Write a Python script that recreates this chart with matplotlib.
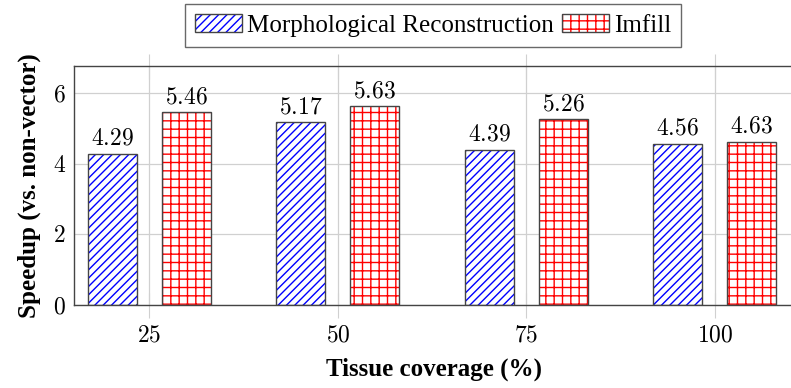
import matplotlib.pyplot as plt
from matplotlib.patches import Patch
import numpy as np

plt.rcParams['font.family'] = ['Liberation Serif', 'DejaVu Serif']
plt.rcParams['mathtext.fontset'] = 'cm'
plt.rcParams['hatch.linewidth'] = 1.0

coverage = ['25', '50', '75', '100']
morph = [4.29, 5.17, 4.39, 4.56]
imfill = [5.46, 5.63, 5.26, 4.63]

fig = plt.figure(figsize=(7.91, 3.88), dpi=100)
ax = fig.add_axes([74 / 791, 83 / 388, 720 / 791, 239 / 388])

x = np.arange(len(coverage))
off = 0.196
w = 0.26

def bars(xs, vals, col, hatch):
    ax.bar(xs, vals, w, color='white', edgecolor=col, hatch=hatch, linewidth=0, zorder=2)
    ax.bar(xs, vals, w, fill=False, edgecolor='#444444', linewidth=1.0, zorder=3)
    for xi, v in zip(xs, vals):
        ax.text(xi, v + 0.12, f'${v:.2f}$', ha='center', va='bottom', fontsize=17, zorder=4)

bars(x - off, morph, 'blue', '////')
bars(x + off, imfill, 'red', '++')

ax.set_xlim(-0.4, 3.42)
ax.set_ylim(0, 6.77)
ax.set_xticks(x)
ax.set_xticklabels([f'${c}$' for c in coverage], fontsize=17)
ax.set_yticks([0, 2, 4, 6])
ax.set_yticklabels([f'${v}$' for v in [0, 2, 4, 6]], fontsize=17)
ax.grid(True, color='#d0d0d0', linewidth=0.9, zorder=0)
ax.set_axisbelow(True)
ax.tick_params(axis='x', which='both', direction='inout', length=18, color='#d0d0d0',
               top=True, pad=6)
ax.tick_params(axis='y', length=0, pad=6)
for s in ax.spines.values():
    s.set_color('#444444')
    s.set_linewidth(1.0)

ax.set_xlabel('Tissue coverage (%)', fontsize=18, fontweight='bold', labelpad=8)
ax.set_ylabel('Speedup (vs. non-vector)', fontsize=18, fontweight='bold', labelpad=8)

h1 = (Patch(facecolor='white', edgecolor='blue', hatch='////', linewidth=0),
      Patch(fill=False, edgecolor='#444444', linewidth=1.0))
h2 = (Patch(facecolor='white', edgecolor='red', hatch='++', linewidth=0),
      Patch(fill=False, edgecolor='#444444', linewidth=1.0))
leg = fig.legend([h1, h2], ['Morphological Reconstruction', 'Imfill'],
                 loc='upper center', bbox_to_anchor=(433 / 791, 0.995), ncol=2,
                 fontsize=18, frameon=True, fancybox=False, edgecolor='#444444',
                 handlelength=1.9, handleheight=0.7, handletextpad=0.2,
                 columnspacing=0.3, borderpad=0.4, borderaxespad=0.1)
leg.get_frame().set_linewidth(1.0)

fig.savefig('out.png', dpi=100)
